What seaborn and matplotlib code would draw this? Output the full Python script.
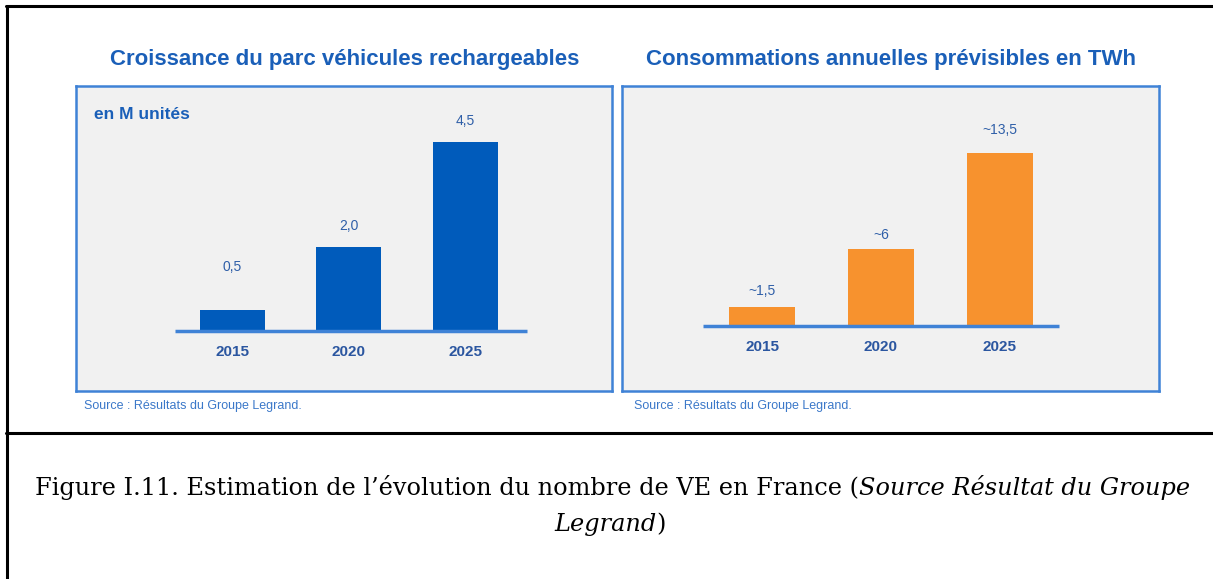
import pandas as pd
import matplotlib.pyplot as plt
import seaborn as sns
from matplotlib.lines import Line2D

# Données
annees = ['2015', '2020', '2025']
parc_vehicules = [0.5, 2.0, 4.5]
parc_labels = ['0,5', '2,0', '4,5']
conso_twh = [1.5, 6.0, 13.5]
conso_labels = ['~1,5', '~6', '~13,5']

titre_gauche = 'Croissance du parc véhicules rechargeables'
titre_droite = 'Consommations annuelles prévisibles en TWh'
unite_gauche = 'en M unités'
source = 'Source : Résultats du Groupe Legrand.'

BLEU = '#005bbb'
ORANGE = '#f7922e'
BORD = '#3f82d6'
FOND = '#f1f1f1'
TXT_BLEU = '#1a5fb8'

sns.set_style('white')
plt.rcParams['font.family'] = ['Liberation Sans', 'DejaVu Sans']

W, H = 1213, 579
fig = plt.figure(figsize=(W / 100, H / 100), dpi=100)


def px_axes(x0, y0, x1, y1):
	return fig.add_axes([x0 / W, 1 - y1 / H, (x1 - x0) / W, (y1 - y0) / H])


def panneau(ax, valeurs, labels, couleur, xlim, ylim, base, pads):
	df = pd.DataFrame({'annee': annees, 'valeur': valeurs})
	sns.barplot(data=df, x='annee', y='valeur', color=couleur, width=0.56,
				saturation=1, linewidth=0, ax=ax, zorder=2)
	ax.set_xlim(*xlim)
	ax.set_ylim(*ylim)
	ax.set_facecolor(FOND)
	for s in ax.spines.values():
		s.set_color(BORD)
		s.set_linewidth(1.8)
	ax.set_xticks([])
	ax.set_yticks([])
	ax.set_xlabel('')
	ax.set_ylabel('')
	ax.plot(base, [0, 0], color=BORD, lw=2.5, zorder=3, solid_capstyle='butt')
	for i, (v, lab) in enumerate(zip(valeurs, labels)):
		ax.annotate(lab, (i, v), xytext=(0, pads[i]), textcoords='offset points',
					ha='center', va='bottom', fontsize=10, color='#2f5fa8')
		ax.annotate(annees[i], (i, 0), xytext=(0, -10), textcoords='offset points',
					ha='center', va='top', fontsize=11, fontweight='bold',
					color='#2b56a0')


ax1 = px_axes(76, 86, 612, 391)
panneau(ax1, parc_vehicules, parc_labels, BLEU, (-1.34, 3.26), (-1.43, 5.83),
		[-0.49, 2.53], [26, 10, 10])
ax1.text(0.033, 0.93, unite_gauche, transform=ax1.transAxes, fontsize=12.5,
		 fontweight='bold', color=TXT_BLEU, va='top')

ax2 = px_axes(622, 86, 1159, 391)
panneau(ax2, conso_twh, conso_labels, ORANGE, (-1.18, 3.34), (-5.08, 18.75),
		[-0.50, 2.50], [6, 5, 12])

fig.text(345 / W, 1 - 60 / H, titre_gauche, ha='center', va='center',
		 fontsize=16, fontweight='bold', color=TXT_BLEU)
fig.text(891 / W, 1 - 60 / H, titre_droite, ha='center', va='center',
		 fontsize=16, fontweight='bold', color=TXT_BLEU)
fig.text(84 / W, 1 - 406 / H, source, ha='left', va='center', fontsize=9,
		 color='#3b78c9')
fig.text(634 / W, 1 - 406 / H, source, ha='left', va='center', fontsize=9,
		 color='#3b78c9')

# cadre noir du document
fig.add_artist(Line2D([7 / W, 7 / W], [0, 1 - 6 / H], color='black', lw=2.2))
fig.add_artist(Line2D([6 / W, 1], [1 - 6 / H, 1 - 6 / H], color='black', lw=2.2))
fig.add_artist(Line2D([6 / W, 1], [1 - 433 / H, 1 - 433 / H], color='black', lw=2.2))

# légende de la figure
serif = ['DejaVu Serif']
taille = 17.3
t1 = fig.text(35 / W, 1 - 487 / H, 'Figure I.11. Estimation de l\u2019évolution du nombre de VE en France (',
			  ha='left', va='center', fontsize=taille, family=serif, color='black')
fig.canvas.draw()
bb = t1.get_window_extent()
fig.text(bb.x1 / W, 1 - 487 / H, 'Source Résultat du Groupe', ha='left', va='center',
		 fontsize=taille, style='italic', family=serif, color='black')
t3 = fig.text(0, 1 - 525 / H, 'Legrand', ha='left', va='center',
			  fontsize=taille, style='italic', family=serif, color='black')
t4 = fig.text(0, 1 - 525 / H, ')', ha='left', va='center', fontsize=taille,
			  family=serif, color='black')
fig.canvas.draw()
w3 = t3.get_window_extent().width
w4 = t4.get_window_extent().width
x0 = 610 - (w3 + w4) / 2
t3.set_x(x0 / W)
t4.set_x((x0 + w3) / W)

fig.savefig('out.png', dpi=100)
